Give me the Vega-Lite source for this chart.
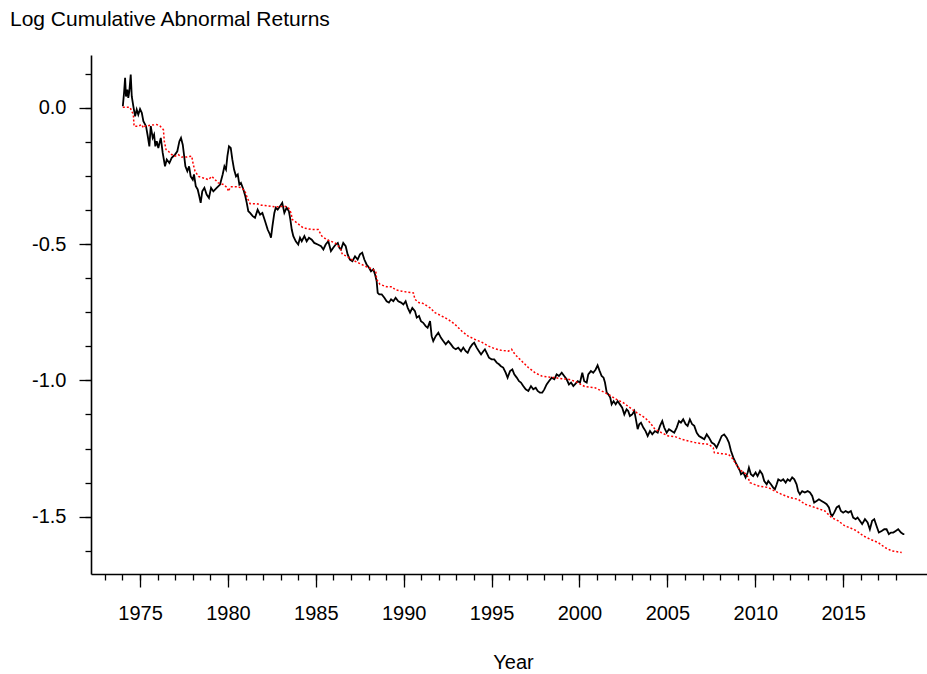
{
"$schema": "https://vega.github.io/schema/vega-lite/v6.json",
"width": 836,
"height": 519,
"autosize": {"type": "none"},
"padding": {"left": 91, "top": 55, "right": 0, "bottom": 100},
"background": "white",
"config": {"view": {"stroke": null}, "font": "Liberation Sans"},
"title": {"text": "Log Cumulative Abnormal Returns", "anchor": "start", "frame": "group", "dx": -81, "offset": 8, "baseline": "alphabetic", "fontSize": 21, "fontWeight": "normal", "font": "Liberation Sans", "color": "black"},
"datasets": {
"black": [
{"year":1974.02,"v":0.005},{"year":1974.09,"v":0.054},{"year":1974.15,"v":0.109},{"year":1974.20,"v":0.041},{"year":1974.28,"v":0.066},{"year":1974.33,"v":0.036},{"year":1974.39,"v":0.060},{"year":1974.47,"v":0.121},{"year":1974.53,"v":0.041},{"year":1974.62,"v":0.005},{"year":1974.72,"v":-0.032},{"year":1974.81,"v":-0.007},{"year":1974.90,"v":-0.026},{"year":1975.00,"v":-0.005},{"year":1975.10,"v":-0.019},{"year":1975.19,"v":-0.050},{"year":1975.34,"v":-0.068},{"year":1975.44,"v":-0.105},{"year":1975.53,"v":-0.142},{"year":1975.61,"v":-0.068},{"year":1975.72,"v":-0.111},{"year":1975.80,"v":-0.099},{"year":1975.87,"v":-0.142},{"year":1975.95,"v":-0.123},{"year":1976.04,"v":-0.148},{"year":1976.18,"v":-0.111},{"year":1976.29,"v":-0.166},{"year":1976.42,"v":-0.215},{"year":1976.52,"v":-0.190},{"year":1976.67,"v":-0.203},{"year":1976.80,"v":-0.184},{"year":1976.99,"v":-0.172},{"year":1977.12,"v":-0.160},{"year":1977.24,"v":-0.123},{"year":1977.33,"v":-0.111},{"year":1977.43,"v":-0.136},{"year":1977.50,"v":-0.172},{"year":1977.58,"v":-0.215},{"year":1977.69,"v":-0.233},{"year":1977.79,"v":-0.215},{"year":1977.88,"v":-0.252},{"year":1978.00,"v":-0.264},{"year":1978.07,"v":-0.245},{"year":1978.17,"v":-0.288},{"year":1978.28,"v":-0.300},{"year":1978.37,"v":-0.325},{"year":1978.45,"v":-0.349},{"year":1978.54,"v":-0.307},{"year":1978.66,"v":-0.294},{"year":1978.79,"v":-0.319},{"year":1978.92,"v":-0.331},{"year":1979.04,"v":-0.294},{"year":1979.17,"v":-0.307},{"year":1979.36,"v":-0.294},{"year":1979.55,"v":-0.282},{"year":1979.70,"v":-0.245},{"year":1979.80,"v":-0.215},{"year":1979.89,"v":-0.227},{"year":1979.97,"v":-0.178},{"year":1980.06,"v":-0.142},{"year":1980.16,"v":-0.148},{"year":1980.25,"v":-0.190},{"year":1980.35,"v":-0.227},{"year":1980.46,"v":-0.252},{"year":1980.56,"v":-0.245},{"year":1980.65,"v":-0.282},{"year":1980.74,"v":-0.276},{"year":1980.88,"v":-0.300},{"year":1980.99,"v":-0.325},{"year":1981.07,"v":-0.349},{"year":1981.16,"v":-0.380},{"year":1981.26,"v":-0.386},{"year":1981.41,"v":-0.398},{"year":1981.54,"v":-0.404},{"year":1981.69,"v":-0.374},{"year":1981.83,"v":-0.392},{"year":1981.96,"v":-0.386},{"year":1982.11,"v":-0.416},{"year":1982.26,"v":-0.447},{"year":1982.39,"v":-0.465},{"year":1982.45,"v":-0.477},{"year":1982.53,"v":-0.435},{"year":1982.64,"v":-0.386},{"year":1982.72,"v":-0.367},{"year":1982.83,"v":-0.374},{"year":1982.96,"v":-0.362},{"year":1983.09,"v":-0.349},{"year":1983.21,"v":-0.386},{"year":1983.34,"v":-0.367},{"year":1983.47,"v":-0.380},{"year":1983.55,"v":-0.410},{"year":1983.63,"v":-0.447},{"year":1983.72,"v":-0.471},{"year":1983.86,"v":-0.490},{"year":1984.00,"v":-0.502},{"year":1984.10,"v":-0.477},{"year":1984.20,"v":-0.490},{"year":1984.35,"v":-0.471},{"year":1984.48,"v":-0.490},{"year":1984.61,"v":-0.477},{"year":1984.77,"v":-0.484},{"year":1984.91,"v":-0.496},{"year":1985.11,"v":-0.502},{"year":1985.30,"v":-0.508},{"year":1985.43,"v":-0.520},{"year":1985.56,"v":-0.502},{"year":1985.71,"v":-0.490},{"year":1985.86,"v":-0.526},{"year":1985.99,"v":-0.514},{"year":1986.13,"v":-0.502},{"year":1986.25,"v":-0.496},{"year":1986.34,"v":-0.514},{"year":1986.43,"v":-0.520},{"year":1986.56,"v":-0.496},{"year":1986.70,"v":-0.508},{"year":1986.81,"v":-0.538},{"year":1986.94,"v":-0.557},{"year":1987.08,"v":-0.563},{"year":1987.23,"v":-0.545},{"year":1987.38,"v":-0.557},{"year":1987.51,"v":-0.538},{"year":1987.64,"v":-0.532},{"year":1987.76,"v":-0.557},{"year":1987.89,"v":-0.575},{"year":1988.03,"v":-0.587},{"year":1988.14,"v":-0.600},{"year":1988.27,"v":-0.593},{"year":1988.37,"v":-0.612},{"year":1988.46,"v":-0.636},{"year":1988.52,"v":-0.679},{"year":1988.61,"v":-0.685},{"year":1988.75,"v":-0.685},{"year":1988.90,"v":-0.697},{"year":1989.03,"v":-0.710},{"year":1989.16,"v":-0.715},{"year":1989.28,"v":-0.703},{"year":1989.41,"v":-0.710},{"year":1989.54,"v":-0.697},{"year":1989.69,"v":-0.710},{"year":1989.85,"v":-0.715},{"year":1989.98,"v":-0.722},{"year":1990.11,"v":-0.710},{"year":1990.23,"v":-0.734},{"year":1990.36,"v":-0.752},{"year":1990.49,"v":-0.734},{"year":1990.64,"v":-0.746},{"year":1990.74,"v":-0.770},{"year":1990.87,"v":-0.764},{"year":1990.98,"v":-0.783},{"year":1991.11,"v":-0.789},{"year":1991.25,"v":-0.801},{"year":1991.36,"v":-0.807},{"year":1991.50,"v":-0.783},{"year":1991.59,"v":-0.838},{"year":1991.68,"v":-0.856},{"year":1991.82,"v":-0.838},{"year":1991.97,"v":-0.825},{"year":1992.12,"v":-0.844},{"year":1992.25,"v":-0.856},{"year":1992.39,"v":-0.868},{"year":1992.54,"v":-0.856},{"year":1992.69,"v":-0.868},{"year":1992.82,"v":-0.880},{"year":1992.96,"v":-0.886},{"year":1993.10,"v":-0.880},{"year":1993.26,"v":-0.893},{"year":1993.39,"v":-0.880},{"year":1993.53,"v":-0.893},{"year":1993.64,"v":-0.899},{"year":1993.77,"v":-0.880},{"year":1993.90,"v":-0.868},{"year":1994.01,"v":-0.862},{"year":1994.15,"v":-0.880},{"year":1994.28,"v":-0.893},{"year":1994.40,"v":-0.905},{"year":1994.53,"v":-0.893},{"year":1994.62,"v":-0.886},{"year":1994.72,"v":-0.899},{"year":1994.85,"v":-0.917},{"year":1995.00,"v":-0.923},{"year":1995.15,"v":-0.923},{"year":1995.29,"v":-0.935},{"year":1995.42,"v":-0.941},{"year":1995.53,"v":-0.948},{"year":1995.66,"v":-0.953},{"year":1995.80,"v":-0.972},{"year":1995.91,"v":-0.990},{"year":1996.05,"v":-0.966},{"year":1996.18,"v":-0.960},{"year":1996.29,"v":-0.978},{"year":1996.43,"v":-0.990},{"year":1996.56,"v":-1.003},{"year":1996.67,"v":-1.008},{"year":1996.80,"v":-1.021},{"year":1996.94,"v":-1.033},{"year":1997.09,"v":-1.039},{"year":1997.24,"v":-1.021},{"year":1997.37,"v":-1.033},{"year":1997.51,"v":-1.027},{"year":1997.62,"v":-1.039},{"year":1997.75,"v":-1.045},{"year":1997.88,"v":-1.045},{"year":1998.00,"v":-1.033},{"year":1998.13,"v":-1.015},{"year":1998.26,"v":-1.003},{"year":1998.42,"v":-0.990},{"year":1998.57,"v":-0.996},{"year":1998.70,"v":-0.978},{"year":1998.83,"v":-0.984},{"year":1998.99,"v":-0.972},{"year":1999.13,"v":-0.984},{"year":1999.27,"v":-0.996},{"year":1999.40,"v":-1.015},{"year":1999.52,"v":-1.008},{"year":1999.65,"v":-1.021},{"year":1999.74,"v":-1.015},{"year":1999.90,"v":-1.003},{"year":2000.03,"v":-1.008},{"year":2000.16,"v":-0.972},{"year":2000.27,"v":-1.003},{"year":2000.41,"v":-1.008},{"year":2000.50,"v":-0.978},{"year":2000.65,"v":-0.966},{"year":2000.78,"v":-0.972},{"year":2000.92,"v":-0.960},{"year":2001.03,"v":-0.945},{"year":2001.15,"v":-0.966},{"year":2001.26,"v":-0.984},{"year":2001.37,"v":-0.990},{"year":2001.45,"v":-1.008},{"year":2001.55,"v":-1.045},{"year":2001.64,"v":-1.051},{"year":2001.75,"v":-1.063},{"year":2001.83,"v":-1.088},{"year":2001.94,"v":-1.076},{"year":2002.06,"v":-1.088},{"year":2002.17,"v":-1.076},{"year":2002.30,"v":-1.088},{"year":2002.43,"v":-1.100},{"year":2002.55,"v":-1.125},{"year":2002.68,"v":-1.106},{"year":2002.77,"v":-1.112},{"year":2002.87,"v":-1.131},{"year":2003.00,"v":-1.125},{"year":2003.12,"v":-1.112},{"year":2003.21,"v":-1.143},{"year":2003.31,"v":-1.179},{"year":2003.40,"v":-1.161},{"year":2003.50,"v":-1.155},{"year":2003.63,"v":-1.173},{"year":2003.76,"v":-1.186},{"year":2003.88,"v":-1.204},{"year":2004.01,"v":-1.186},{"year":2004.14,"v":-1.198},{"year":2004.29,"v":-1.186},{"year":2004.45,"v":-1.192},{"year":2004.58,"v":-1.167},{"year":2004.71,"v":-1.149},{"year":2004.82,"v":-1.173},{"year":2004.96,"v":-1.192},{"year":2005.09,"v":-1.179},{"year":2005.24,"v":-1.186},{"year":2005.39,"v":-1.192},{"year":2005.53,"v":-1.173},{"year":2005.66,"v":-1.149},{"year":2005.77,"v":-1.155},{"year":2005.90,"v":-1.143},{"year":2006.04,"v":-1.161},{"year":2006.15,"v":-1.167},{"year":2006.28,"v":-1.143},{"year":2006.41,"v":-1.161},{"year":2006.53,"v":-1.167},{"year":2006.67,"v":-1.192},{"year":2006.80,"v":-1.204},{"year":2006.95,"v":-1.210},{"year":2007.10,"v":-1.216},{"year":2007.24,"v":-1.198},{"year":2007.37,"v":-1.210},{"year":2007.52,"v":-1.228},{"year":2007.67,"v":-1.234},{"year":2007.80,"v":-1.247},{"year":2007.93,"v":-1.228},{"year":2008.09,"v":-1.204},{"year":2008.23,"v":-1.198},{"year":2008.37,"v":-1.210},{"year":2008.50,"v":-1.228},{"year":2008.62,"v":-1.259},{"year":2008.75,"v":-1.283},{"year":2008.88,"v":-1.301},{"year":2009.03,"v":-1.320},{"year":2009.13,"v":-1.332},{"year":2009.19,"v":-1.344},{"year":2009.32,"v":-1.338},{"year":2009.45,"v":-1.356},{"year":2009.57,"v":-1.338},{"year":2009.64,"v":-1.320},{"year":2009.75,"v":-1.344},{"year":2009.88,"v":-1.351},{"year":2010.02,"v":-1.338},{"year":2010.13,"v":-1.351},{"year":2010.27,"v":-1.332},{"year":2010.40,"v":-1.344},{"year":2010.51,"v":-1.369},{"year":2010.65,"v":-1.381},{"year":2010.74,"v":-1.369},{"year":2010.89,"v":-1.381},{"year":2011.02,"v":-1.393},{"year":2011.12,"v":-1.399},{"year":2011.22,"v":-1.381},{"year":2011.31,"v":-1.363},{"year":2011.46,"v":-1.369},{"year":2011.59,"v":-1.363},{"year":2011.73,"v":-1.375},{"year":2011.84,"v":-1.363},{"year":2011.97,"v":-1.369},{"year":2012.10,"v":-1.356},{"year":2012.22,"v":-1.363},{"year":2012.35,"v":-1.381},{"year":2012.44,"v":-1.406},{"year":2012.54,"v":-1.418},{"year":2012.67,"v":-1.406},{"year":2012.82,"v":-1.411},{"year":2012.98,"v":-1.406},{"year":2013.11,"v":-1.411},{"year":2013.24,"v":-1.424},{"year":2013.35,"v":-1.448},{"year":2013.49,"v":-1.442},{"year":2013.62,"v":-1.436},{"year":2013.77,"v":-1.442},{"year":2013.92,"v":-1.448},{"year":2014.06,"v":-1.454},{"year":2014.19,"v":-1.466},{"year":2014.30,"v":-1.491},{"year":2014.38,"v":-1.497},{"year":2014.49,"v":-1.485},{"year":2014.63,"v":-1.466},{"year":2014.76,"v":-1.460},{"year":2014.87,"v":-1.479},{"year":2015.00,"v":-1.485},{"year":2015.14,"v":-1.479},{"year":2015.29,"v":-1.485},{"year":2015.44,"v":-1.479},{"year":2015.57,"v":-1.503},{"year":2015.71,"v":-1.509},{"year":2015.82,"v":-1.503},{"year":2015.95,"v":-1.515},{"year":2016.08,"v":-1.527},{"year":2016.24,"v":-1.509},{"year":2016.39,"v":-1.521},{"year":2016.52,"v":-1.546},{"year":2016.65,"v":-1.515},{"year":2016.77,"v":-1.509},{"year":2016.90,"v":-1.534},{"year":2017.03,"v":-1.558},{"year":2017.19,"v":-1.552},{"year":2017.34,"v":-1.546},{"year":2017.47,"v":-1.546},{"year":2017.60,"v":-1.564},{"year":2017.72,"v":-1.558},{"year":2017.85,"v":-1.558},{"year":2017.99,"v":-1.552},{"year":2018.13,"v":-1.546},{"year":2018.29,"v":-1.558},{"year":2018.42,"v":-1.564},{"year":2018.48,"v":-1.564}
],
"red": [
{"year":1974.02,"v":0.001},{"year":1974.43,"v":0.001},{"year":1974.62,"v":-0.026},{"year":1974.66,"v":-0.068},{"year":1974.90,"v":-0.068},{"year":1975.10,"v":-0.062},{"year":1975.19,"v":-0.074},{"year":1975.28,"v":-0.068},{"year":1975.57,"v":-0.065},{"year":1975.95,"v":-0.062},{"year":1976.14,"v":-0.068},{"year":1976.33,"v":-0.081},{"year":1976.38,"v":-0.123},{"year":1976.48,"v":-0.154},{"year":1976.61,"v":-0.160},{"year":1976.80,"v":-0.172},{"year":1976.99,"v":-0.178},{"year":1977.18,"v":-0.172},{"year":1977.37,"v":-0.181},{"year":1977.66,"v":-0.181},{"year":1977.94,"v":-0.178},{"year":1978.03,"v":-0.209},{"year":1978.13,"v":-0.233},{"year":1978.32,"v":-0.252},{"year":1978.60,"v":-0.258},{"year":1978.89,"v":-0.264},{"year":1979.08,"v":-0.252},{"year":1979.27,"v":-0.264},{"year":1979.45,"v":-0.276},{"year":1979.74,"v":-0.282},{"year":1979.97,"v":-0.294},{"year":1980.02,"v":-0.307},{"year":1980.16,"v":-0.290},{"year":1980.50,"v":-0.290},{"year":1980.78,"v":-0.294},{"year":1980.97,"v":-0.307},{"year":1981.10,"v":-0.331},{"year":1981.26,"v":-0.352},{"year":1981.64,"v":-0.352},{"year":1981.92,"v":-0.358},{"year":1982.11,"v":-0.359},{"year":1982.68,"v":-0.364},{"year":1983.25,"v":-0.362},{"year":1983.44,"v":-0.367},{"year":1983.59,"v":-0.386},{"year":1983.66,"v":-0.410},{"year":1983.91,"v":-0.422},{"year":1984.29,"v":-0.441},{"year":1984.77,"v":-0.447},{"year":1985.14,"v":-0.447},{"year":1985.34,"v":-0.471},{"year":1985.62,"v":-0.484},{"year":1986.09,"v":-0.496},{"year":1986.38,"v":-0.514},{"year":1986.51,"v":-0.538},{"year":1986.76,"v":-0.545},{"year":1987.04,"v":-0.557},{"year":1987.42,"v":-0.569},{"year":1987.80,"v":-0.581},{"year":1988.18,"v":-0.591},{"year":1988.41,"v":-0.600},{"year":1988.46,"v":-0.630},{"year":1988.65,"v":-0.648},{"year":1989.03,"v":-0.657},{"year":1989.35,"v":-0.657},{"year":1989.50,"v":-0.667},{"year":1989.89,"v":-0.673},{"year":1990.26,"v":-0.677},{"year":1990.55,"v":-0.679},{"year":1990.64,"v":-0.703},{"year":1990.87,"v":-0.715},{"year":1991.02,"v":-0.715},{"year":1991.50,"v":-0.734},{"year":1991.78,"v":-0.752},{"year":1992.16,"v":-0.764},{"year":1992.54,"v":-0.777},{"year":1992.92,"v":-0.795},{"year":1993.30,"v":-0.819},{"year":1993.67,"v":-0.838},{"year":1994.06,"v":-0.850},{"year":1994.44,"v":-0.860},{"year":1994.81,"v":-0.874},{"year":1995.19,"v":-0.884},{"year":1995.57,"v":-0.890},{"year":1995.95,"v":-0.893},{"year":1996.14,"v":-0.886},{"year":1996.33,"v":-0.905},{"year":1996.71,"v":-0.929},{"year":1997.09,"v":-0.953},{"year":1997.47,"v":-0.972},{"year":1997.85,"v":-0.984},{"year":1998.22,"v":-0.988},{"year":1998.61,"v":-0.990},{"year":1998.99,"v":-0.994},{"year":1999.36,"v":-0.996},{"year":1999.74,"v":-1.003},{"year":2000.31,"v":-1.023},{"year":2000.88,"v":-1.027},{"year":2001.26,"v":-1.039},{"year":2001.64,"v":-1.051},{"year":2002.11,"v":-1.070},{"year":2002.49,"v":-1.082},{"year":2002.87,"v":-1.100},{"year":2003.25,"v":-1.118},{"year":2003.72,"v":-1.137},{"year":2004.01,"v":-1.155},{"year":2004.29,"v":-1.179},{"year":2004.67,"v":-1.192},{"year":2005.05,"v":-1.204},{"year":2005.43,"v":-1.206},{"year":2005.81,"v":-1.216},{"year":2006.19,"v":-1.222},{"year":2006.57,"v":-1.228},{"year":2006.95,"v":-1.232},{"year":2007.33,"v":-1.234},{"year":2007.61,"v":-1.247},{"year":2007.67,"v":-1.265},{"year":2008.09,"v":-1.269},{"year":2008.47,"v":-1.271},{"year":2008.66,"v":-1.283},{"year":2008.85,"v":-1.301},{"year":2009.03,"v":-1.320},{"year":2009.32,"v":-1.338},{"year":2009.51,"v":-1.344},{"year":2009.70,"v":-1.375},{"year":2010.17,"v":-1.387},{"year":2010.74,"v":-1.393},{"year":2011.12,"v":-1.406},{"year":2011.50,"v":-1.418},{"year":2011.97,"v":-1.430},{"year":2012.44,"v":-1.436},{"year":2012.82,"v":-1.454},{"year":2013.39,"v":-1.466},{"year":2013.96,"v":-1.479},{"year":2014.34,"v":-1.503},{"year":2014.72,"v":-1.515},{"year":2015.10,"v":-1.534},{"year":2015.38,"v":-1.540},{"year":2015.77,"v":-1.552},{"year":2016.14,"v":-1.570},{"year":2016.52,"v":-1.582},{"year":2017.00,"v":-1.595},{"year":2017.38,"v":-1.613},{"year":2017.76,"v":-1.625},{"year":2018.33,"v":-1.631}
]
},
"layer": [
{
"data": {"name": "black"},
"mark": {"type": "line", "color": "black", "strokeWidth": 1.8},
"encoding": {
"x": {"field": "year", "type": "quantitative", "scale": {"domain": [1972.21, 2019.77], "nice": false, "zero": false},
"axis": {"orient": "bottom", "values": [1975, 1980, 1985, 1990, 1995, 2000, 2005, 2010, 2015], "format": "d", "grid": false, "tickSize": 13, "tickWidth": 1.3, "tickColor": "black", "domainColor": "black", "domainWidth": 1.6, "labelFont": "Liberation Sans", "labelFontSize": 20, "labelColor": "black", "labelBaseline": "alphabetic", "labelPadding": 32, "labelFlush": false, "labelOverlap": false, "title": "Year", "titleFont": "Liberation Sans", "titleFontSize": 20, "titleFontWeight": "normal", "titleColor": "black", "titleBaseline": "alphabetic", "titleX": 422, "titleY": 94}},
"y": {"field": "v", "type": "quantitative", "scale": {"domain": [-1.71, 0.193], "nice": false, "zero": false},
"axis": {"orient": "left", "values": [0, -0.5, -1, -1.5], "labelExpr": "datum.value < 0 ? '-' + format(-datum.value, '.1f') : format(datum.value, '.1f')", "grid": false, "tickSize": 12, "tickWidth": 1.3, "tickColor": "black", "domainColor": "black", "domainWidth": 1.6, "labelFont": "Liberation Sans", "labelFontSize": 20, "labelColor": "black", "labelPadding": 13, "labelFlush": false, "labelOverlap": false, "title": null}}
}
},
{
"data": {"name": "red"},
"mark": {"type": "line", "color": "#ff0000", "strokeWidth": 1.5, "strokeDash": [2, 2]},
"encoding": {
"x": {"field": "year", "type": "quantitative", "scale": {"domain": [1972.21, 2019.77], "nice": false, "zero": false},
"axis": {"orient": "bottom", "values": [1973,1974,1975,1976,1977,1978,1979,1980,1981,1982,1983,1984,1985,1986,1987,1988,1989,1990,1991,1992,1993,1994,1995,1996,1997,1998,1999,2000,2001,2002,2003,2004,2005,2006,2007,2008,2009,2010,2011,2012,2013,2014,2015,2016,2017,2018], "labels": false, "domain": false, "grid": false, "tickSize": 6, "tickWidth": 1.3, "tickColor": "black", "title": null}},
"y": {"field": "v", "type": "quantitative", "scale": {"domain": [-1.71, 0.193], "nice": false, "zero": false},
"axis": {"orient": "left", "values": [0.125, 0, -0.125, -0.25, -0.375, -0.5, -0.625, -0.75, -0.875, -1, -1.125, -1.25, -1.375, -1.5, -1.625], "labels": false, "domain": false, "grid": false, "tickSize": 6, "tickWidth": 1.3, "tickColor": "black", "title": null}}
}
}
],
"resolve": {"axis": {"x": "independent", "y": "independent"}}
}
